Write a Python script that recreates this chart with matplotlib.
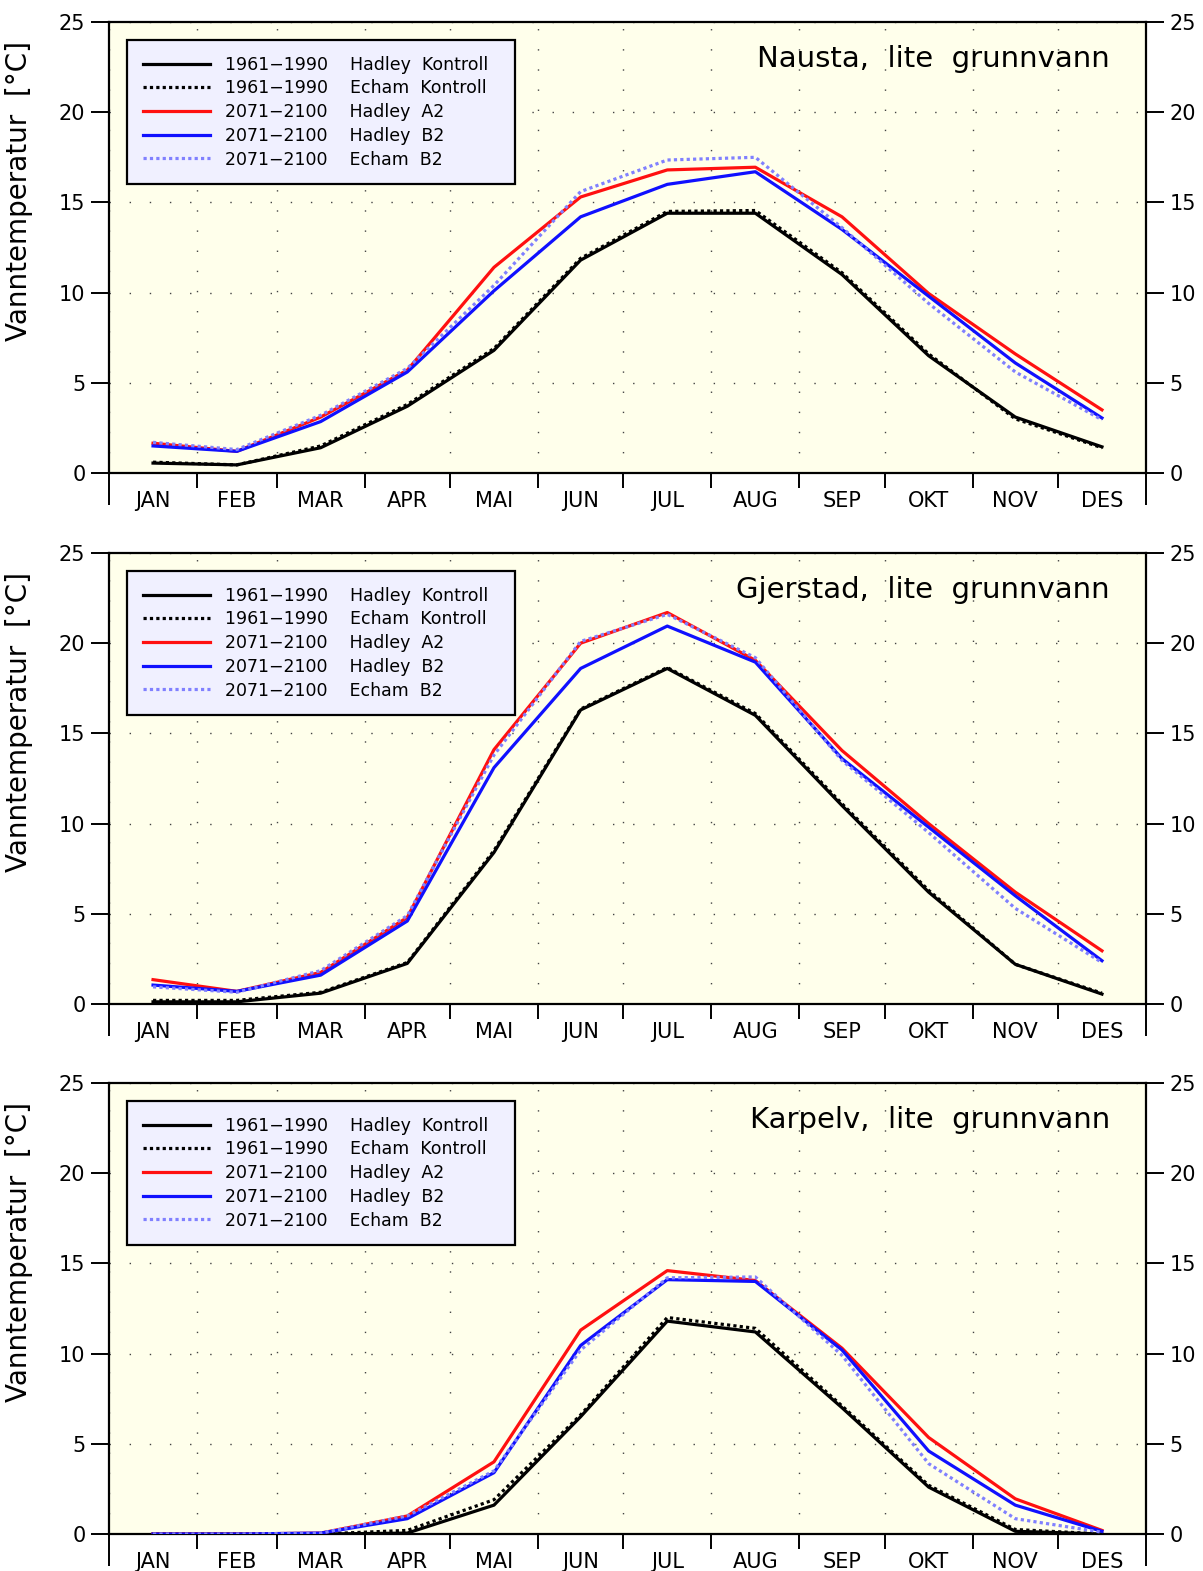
import numpy as np
import matplotlib
matplotlib.use("Agg")
import matplotlib.pyplot as plt
from matplotlib.lines import Line2D

months = ["JAN", "FEB", "MAR", "APR", "MAI", "JUN", "JUL", "AUG", "SEP", "OKT", "NOV", "DES"]
month_days = [31, 28, 31, 30, 31, 30, 31, 31, 30, 31, 30, 31]

stations = ["Nausta,  lite  grunnvann", "Gjerstad,  lite  grunnvann", "Karpelv,  lite  grunnvann"]

series_labels = [
    ("1961\u22121990", "Hadley  Kontroll"),
    ("1961\u22121990", "Echam  Kontroll"),
    ("2071\u22122100", "Hadley  A2"),
    ("2071\u22122100", "Hadley  B2"),
    ("2071\u22122100", "Echam  B2"),
]

# Nausta
nausta_hadley_ctrl = [0.55, 0.45, 1.4, 3.7, 6.8, 11.8, 14.4, 14.4, 11.0, 6.5, 3.1, 1.45]
nausta_echam_ctrl = [0.6, 0.45, 1.5, 3.8, 6.9, 11.9, 14.5, 14.55, 11.1, 6.6, 3.0, 1.4]
nausta_hadley_a2 = [1.65, 1.2, 3.1, 5.7, 11.4, 15.3, 16.8, 16.95, 14.2, 9.95, 6.6, 3.5]
nausta_hadley_b2 = [1.5, 1.2, 2.85, 5.6, 10.1, 14.2, 16.0, 16.7, 13.5, 9.8, 6.1, 3.05]
nausta_echam_b2 = [1.7, 1.3, 3.2, 5.8, 10.4, 15.6, 17.35, 17.5, 13.6, 9.4, 5.6, 2.95]

# Gjerstad
gjerstad_hadley_ctrl = [0.12, 0.12, 0.6, 2.25, 8.4, 16.3, 18.6, 16.0, 11.0, 6.2, 2.2, 0.55]
gjerstad_echam_ctrl = [0.2, 0.2, 0.65, 2.3, 8.5, 16.35, 18.65, 16.1, 11.1, 6.3, 2.2, 0.6]
gjerstad_hadley_a2 = [1.35, 0.7, 1.75, 4.8, 14.1, 20.0, 21.7, 19.05, 14.05, 10.0, 6.2, 2.95]
gjerstad_hadley_b2 = [1.05, 0.7, 1.6, 4.6, 13.1, 18.6, 20.95, 18.95, 13.6, 9.8, 6.0, 2.4]
gjerstad_echam_b2 = [0.95, 0.65, 1.85, 4.9, 13.8, 20.1, 21.6, 19.2, 13.5, 9.5, 5.3, 2.3]

# Karpelv
karpelv_hadley_ctrl = [0.0, 0.0, 0.0, 0.05, 1.6, 6.5, 11.8, 11.2, 7.0, 2.6, 0.15, 0.0]
karpelv_echam_ctrl = [0.0, 0.0, 0.0, 0.2, 1.9, 6.6, 12.0, 11.4, 7.1, 2.7, 0.25, 0.0]
karpelv_hadley_a2 = [0.0, 0.0, 0.05, 1.0, 4.0, 11.3, 14.6, 14.05, 10.3, 5.35, 1.95, 0.2]
karpelv_hadley_b2 = [0.0, 0.0, 0.05, 0.85, 3.4, 10.45, 14.1, 14.0, 10.2, 4.6, 1.6, 0.15]
karpelv_echam_b2 = [0.0, 0.0, 0.05, 1.0, 3.5, 10.2, 14.2, 14.25, 9.9, 3.9, 0.85, 0.1]

panel_data = [
    [nausta_hadley_ctrl, nausta_echam_ctrl, nausta_hadley_a2, nausta_hadley_b2, nausta_echam_b2],
    [gjerstad_hadley_ctrl, gjerstad_echam_ctrl, gjerstad_hadley_a2, gjerstad_hadley_b2, gjerstad_echam_b2],
    [karpelv_hadley_ctrl, karpelv_echam_ctrl, karpelv_hadley_a2, karpelv_hadley_b2, karpelv_echam_b2],
]

yticks = [0, 5, 10, 15, 20, 25]

styles = [
    dict(color="black", ls="-"),
    dict(color="black", ls=(0, (1, 1))),
    dict(color="#FF1010", ls="-"),
    dict(color="#1010FF", ls="-"),
    dict(color="#8080FF", ls=(0, (1, 1))),
]

plt.rcParams["font.family"] = ["DejaVu Sans"]

W, H = 1203, 1571
fig = plt.figure(figsize=(W / 100, H / 100), dpi=100)

bounds = np.concatenate([[0], np.cumsum(month_days)])
mids = (bounds[:-1] + bounds[1:]) / 2.0

panel_tops = [22, 553, 1083]
ax_left_px, ax_right_px = 109, 1146
ax_h_px = 451

for p in range(3):
    top = panel_tops[p]
    bottom = top + ax_h_px
    ax = fig.add_axes([ax_left_px / W, 1 - bottom / H, (ax_right_px - ax_left_px) / W, ax_h_px / H])
    ax.set_facecolor("#FFFFEB")
    ax.set_xlim(0, 365)
    ax.set_ylim(0, 25)

    ax.set_xticks(bounds)
    ax.set_xticklabels([])
    ax.set_xticks(mids, minor=True)
    ax.set_xticklabels(months, minor=True, fontsize=15)
    ax.tick_params(axis="x", which="minor", length=0, pad=13)
    ax.tick_params(axis="x", which="major", length=10.5, width=1.4, direction="out")
    ticks = ax.xaxis.get_major_ticks()
    for t in (ticks[0], ticks[-1]):
        t.tick1line.set_markersize(23)

    ax.set_yticks(yticks)
    ax.set_yticklabels([str(v) for v in yticks], fontsize=15)
    ax.tick_params(axis="y", which="major", length=13, width=1.4, direction="out",
                   left=True, right=True, labelleft=True, labelright=True, pad=4)

    ax.grid(True, which="major", color="#444444", lw=1.0, ls=(0, (1, 13.5)))
    ax.set_axisbelow(True)

    for sp in ax.spines.values():
        sp.set_linewidth(1.6)

    handles = []
    for i in range(5):
        st = styles[i]
        ax.plot(mids, panel_data[p][i], color=st["color"], ls=st["ls"], lw=2.3, zorder=3)
        handles.append(Line2D([], [], color=st["color"], ls=st["ls"], lw=2.3))

    labels = [f"{a}    {b}  " for a, b in series_labels]
    leg = ax.legend(handles, labels, loc="upper left",
                    bbox_to_anchor=((127 - ax_left_px) / 1037, 1 - 18 / ax_h_px),
                    fontsize=12.5, frameon=True, fancybox=False, handlelength=3.9,
                    handletextpad=0.85, labelspacing=0.33, borderpad=0.9,
                    borderaxespad=0.0)
    fr = leg.get_frame()
    fr.set_facecolor("#F0F0FF")
    fr.set_edgecolor("black")
    fr.set_linewidth(1.6)
    fr.set_alpha(1.0)

    ax.text((1110 - ax_left_px) / 1037, 0.918, stations[p], transform=ax.transAxes,
            ha="right", va="center", fontsize=21)

    ax.set_ylabel("Vanntemperatur  [°C]", fontsize=20)
    ax.yaxis.set_label_coords(-0.073, 0.625)

fig.savefig("out.png", dpi=100)
